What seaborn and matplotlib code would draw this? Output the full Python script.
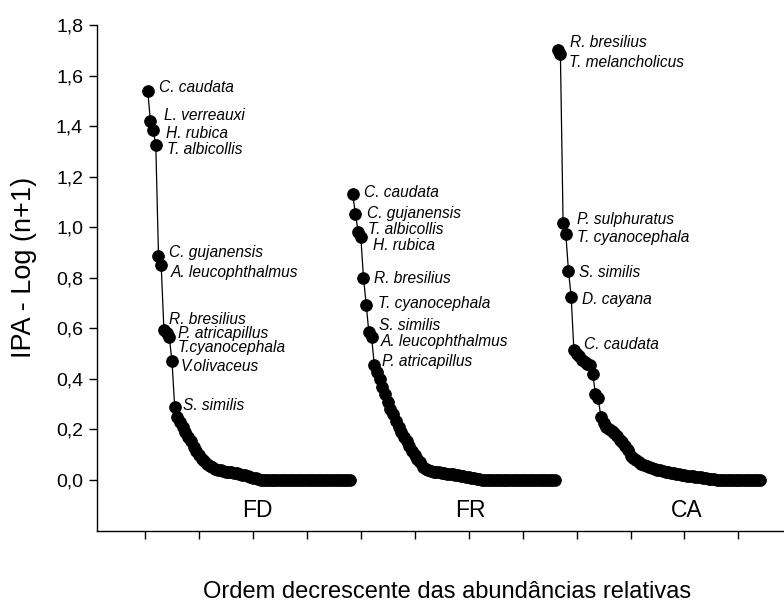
import numpy as np
import pandas as pd
import matplotlib
matplotlib.use("Agg")
import matplotlib.pyplot as plt
import seaborn as sns
from matplotlib.ticker import FuncFormatter, FixedLocator

# ---------------- data ----------------
sites = ["FD", "FR", "CA"]

fd_values = [1.54, 1.42, 1.385, 1.325, 0.885, 0.85, 0.595, 0.58, 0.565, 0.47, 0.29,
             0.25, 0.23, 0.21, 0.19, 0.17, 0.155, 0.13, 0.115, 0.10,
             0.085, 0.075, 0.065, 0.055, 0.05, 0.045, 0.04, 0.038, 0.035, 0.033,
             0.03, 0.03, 0.028, 0.026, 0.024, 0.02, 0.018, 0.015, 0.012, 0.01,
             0.008, 0.005,
             0.0, 0.0, 0.0, 0.0, 0.0, 0.0, 0.0, 0.0, 0.0, 0.0,
             0.0, 0.0, 0.0, 0.0, 0.0, 0.0, 0.0, 0.0, 0.0, 0.0,
             0.0, 0.0, 0.0, 0.0, 0.0, 0.0, 0.0, 0.0, 0.0, 0.0,
             0.0, 0.0, 0.0, 0.0]

fr_values = [1.13, 1.054, 0.981, 0.962, 0.80, 0.694, 0.584, 0.566, 0.455, 0.428,
             0.40, 0.37, 0.34, 0.31, 0.28, 0.26, 0.235, 0.21, 0.19, 0.17,
             0.155, 0.135, 0.115, 0.10, 0.085, 0.07, 0.05, 0.045, 0.04, 0.036,
             0.033, 0.032, 0.03, 0.028, 0.026, 0.025, 0.024, 0.022, 0.02, 0.018,
             0.016, 0.016, 0.014, 0.012, 0.01, 0.008, 0.006, 0.004,
             0.0, 0.0, 0.0, 0.0, 0.0, 0.0, 0.0, 0.0, 0.0, 0.0,
             0.0, 0.0, 0.0, 0.0, 0.0, 0.0, 0.0, 0.0, 0.0, 0.0,
             0.0, 0.0, 0.0, 0.0, 0.0, 0.0, 0.0, 0.0]

ca_values = [1.70, 1.686, 1.017, 0.975, 0.827, 0.725, 0.514, 0.50, 0.49, 0.475,
             0.465, 0.46, 0.455, 0.42, 0.34, 0.325, 0.25, 0.225, 0.21, 0.20,
             0.195, 0.185, 0.175, 0.16, 0.15, 0.135, 0.12, 0.095, 0.088, 0.08,
             0.07, 0.065, 0.06, 0.055, 0.05, 0.047, 0.044, 0.041, 0.038, 0.035,
             0.033, 0.031, 0.029, 0.027, 0.025, 0.023, 0.021, 0.019, 0.017, 0.016,
             0.015, 0.014, 0.013, 0.012, 0.01, 0.008, 0.006, 0.005, 0.004, 0.002,
             0.0, 0.0, 0.0, 0.0, 0.0, 0.0, 0.0, 0.0, 0.0, 0.0,
             0.0, 0.0, 0.0, 0.0, 0.0, 0.0]

fd_labels = ["C. caudata", "L. verreauxi", "H. rubica", "T. albicollis", "C. gujanensis",
             "A. leucophthalmus", "R. bresilius", "P. atricapillus", "T.cyanocephala",
             "V.olivaceus", "S. similis"]
fr_labels = ["C. caudata", "C. gujanensis", "T. albicollis", "H. rubica", "R. bresilius",
             "T. cyanocephala", "S. similis", "A. leucophthalmus", "P. atricapillus"]
ca_labels = ["R. bresilius", "T. melancholicus", "P. sulphuratus", "T. cyanocephala",
             "S. similis", "D. cayana", "C. caudata"]

y_ticks = [0.0, 0.2, 0.4, 0.6, 0.8, 1.0, 1.2, 1.4, 1.6, 1.8]

# ---------------- layout (label offsets in pixels) ----------------
fd_offsets = [(11, -1), (14, 1), (13, -8), (11, -9), (11, -1), (10, -12), (5, 6),
              (11, -5), (8, -15), (9, -10), (8, -3)]
fr_offsets = [(11, -3), (12, -4), (10, -2), (12, -13), (11, -5), (12, -3), (10, 2),
              (9, -9), (8, -1)]
ca_offsets = [(12, 3), (9, -13), (14, -1), (11, -8), (11, -6), (11, -7), (10, 1)]

all_values = [fd_values, fr_values, ca_values]
all_labels = [fd_labels, fr_labels, ca_labels]
all_offsets = [fd_offsets, fr_offsets, ca_offsets]

rows = []
start = 0
for site, vals in zip(sites, all_values):
    for i, v in enumerate(vals):
        rows.append({"site": site, "pos": start + i + 1, "ipa": v})
    start += len(vals)
df = pd.DataFrame(rows)

# ---------------- plot ----------------
sns.set_theme(style="ticks")
plt.rcParams["font.family"] = ["Liberation Sans", "DejaVu Sans"]

fig = plt.figure(figsize=(7.84, 6.05), dpi=100)
ax = fig.add_axes([97 / 784, 74.4 / 605, 687 / 784, 505.6 / 605])

sns.lineplot(data=df, x="pos", y="ipa", units="site", estimator=None,
             color="black", linewidth=0.9, marker="o", markersize=8.3,
             markeredgewidth=0.8, markeredgecolor="black",
             markerfacecolor="black", ax=ax, legend=False)

start = 0
for vals, labels, offs in zip(all_values, all_labels, all_offsets):
    for i, (lab, (dx, dy)) in enumerate(zip(labels, offs)):
        ax.annotate(lab, xy=(start + i + 1, vals[i]), xytext=(dx, dy),
                    textcoords="offset pixels", fontsize=11.2, style="italic",
                    ha="left", va="baseline", color="black")
    start += len(vals)

# site names
for site, xpos in zip(sites, [41.5, 120.5, 201.0]):
    ax.text(xpos, -0.12, site, fontsize=16.5, ha="center", va="center", color="black")

ax.set_xlim(-17.8, 236.9)
ax.set_ylim(-0.2, 1.8)
ax.xaxis.set_major_locator(FixedLocator(list(range(0, 221, 20))))
ax.set_xticklabels([])
ax.yaxis.set_major_locator(FixedLocator(y_ticks))
ax.yaxis.set_major_formatter(FuncFormatter(lambda v, p: f"{v:.1f}".replace(".", ",")))
ax.tick_params(direction="out", length=6, width=1, colors="black", labelsize=14, pad=4)
for s in ["left", "bottom"]:
    ax.spines[s].set_linewidth(1)
    ax.spines[s].set_color("black")
sns.despine(ax=ax)

ax.set_xlabel("Ordem decrescente das abundâncias relativas", fontsize=17, color="black")
ax.set_ylabel("IPA - Log (n+1)", fontsize=19.5, color="black")
ax.xaxis.label.set_va("center")
ax.yaxis.label.set_va("center")
ax.xaxis.set_label_coords(0.509, -0.121)
ax.yaxis.set_label_coords(-0.106, 0.521)

fig.savefig("out.png", dpi=100)
